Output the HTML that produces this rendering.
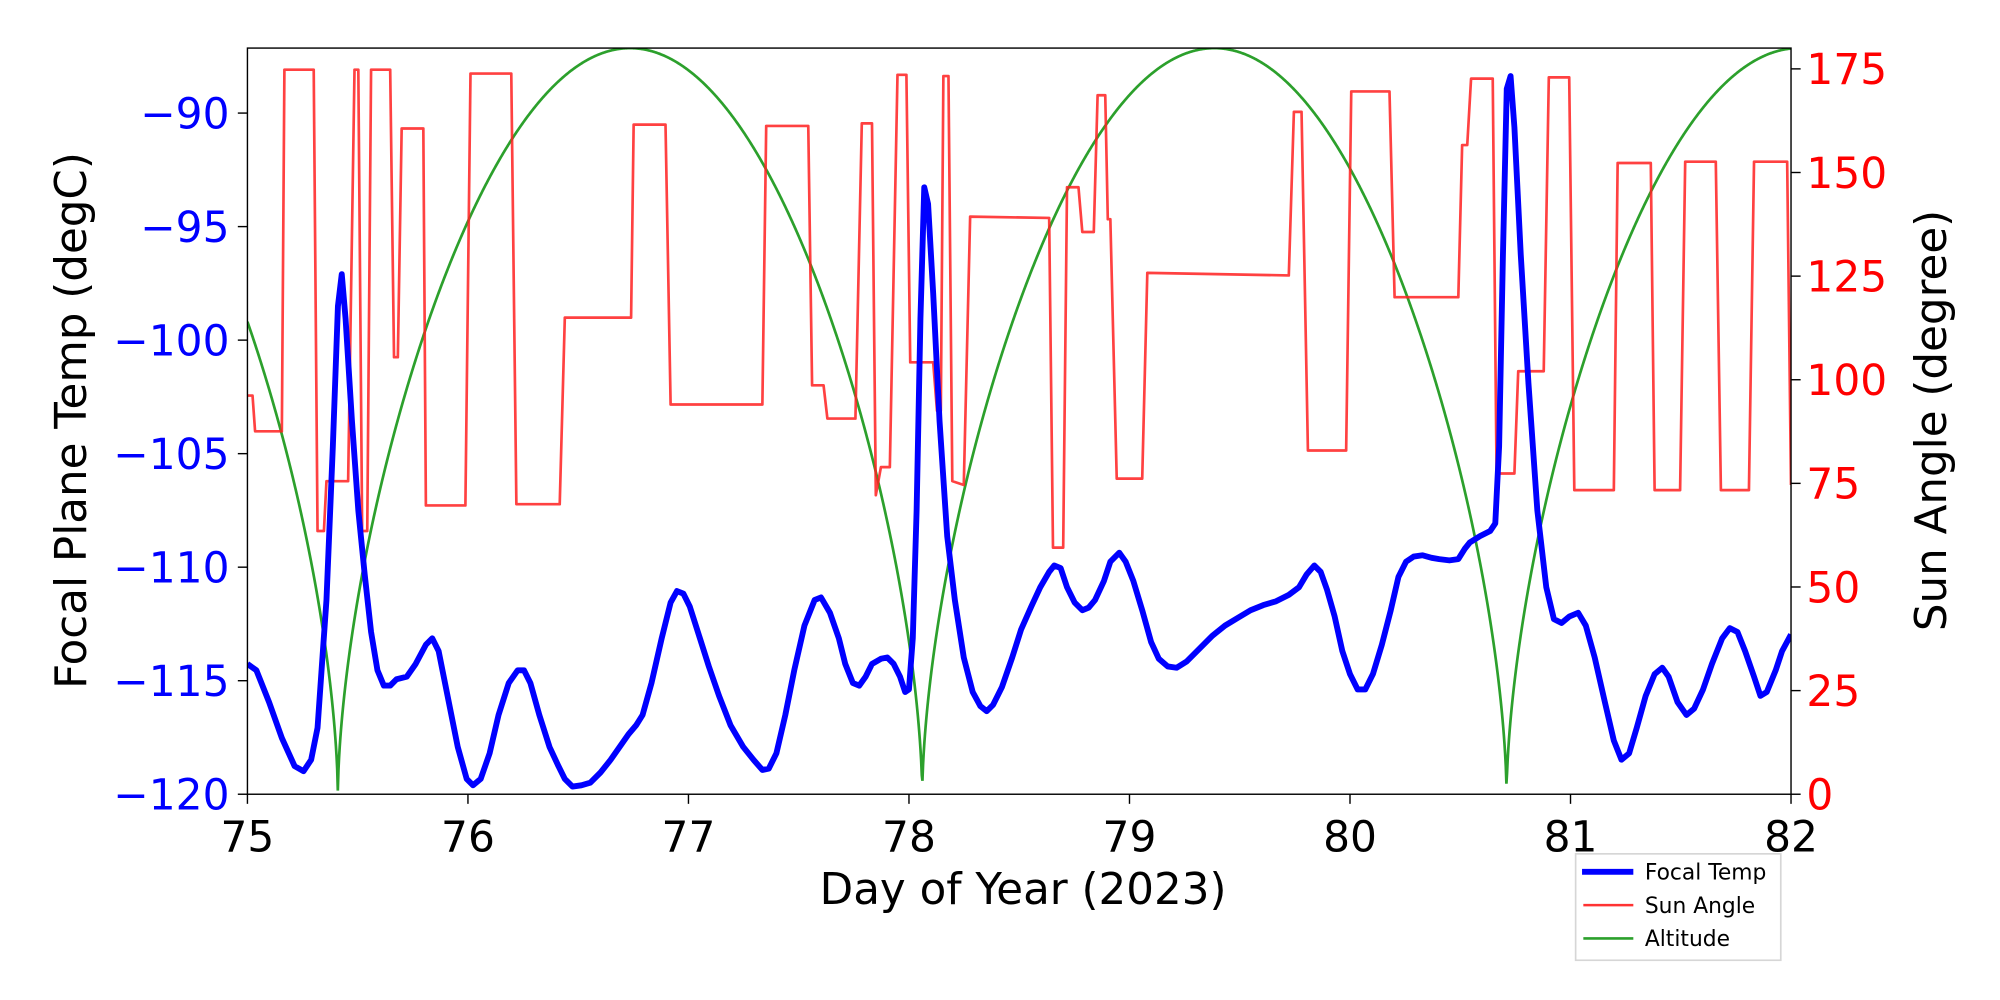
<!DOCTYPE html>
<html><head><meta charset="utf-8"><style>
html,body{margin:0;padding:0;background:#fff;}
svg{display:block;font-family:"DejaVu Sans","Liberation Sans",sans-serif;}
</style></head><body>
<svg id="s" width="2000" height="1000" viewBox="0 0 2000 1000" xmlns="http://www.w3.org/2000/svg">
<rect width="2000" height="1000" fill="#fff"/>
<g transform="scale(1.28205)">
<defs><clipPath id="c"><rect x="193" y="37.5" width="1204" height="582"/></clipPath></defs>
<g clip-path="url(#c)">
<path id="green" fill="none" stroke="#2ca02c" stroke-width="2.1" d=""/>
<g transform="matrix(0.9942,0,0,0.9967,1.12,-0.45)">
<path fill="none" stroke="#ff2020" stroke-opacity="0.85" stroke-width="2.1" stroke-linejoin="round" d="M193,310 L197,310 L199,338 L220,338 L222,55 L245,55 L248,416 L253,416 L255,377 L272,377 L277,55 L280,55 L283,416 L287,416 L290,55 L305,55 L308,280 L311,280 L314,101 L331,101 L333,396 L364,396 L368,58 L400,58 L404,395 L438,395 L442,249 L494,249 L496,98 L521,98 L525,317 L597,317 L600,99 L633,99 L636,302 L645,302 L648,328 L670,328 L675,97 L683,97 L686,388 L690,366 L697,366 L703,59 L710,59 L713,284 L731,284 L734,322 L737,322 L739,60 L743,60 L746,377 L755,380 L760,170 L822,171 L825,429 L833,429 L836,147 L845,147 L848,182 L857,182 L860,75 L866,75 L868,172 L870,172 L875,375 L895,375 L899,214 L1010,216 L1014,88 L1020,88 L1025,353 L1055,353 L1059,72 L1089,72 L1093,233 L1143,233 L1146,114 L1150,114 L1153,62 L1170,62 L1173,371 L1187,371 L1190,291 L1210,291 L1214,61 L1230,61 L1234,384 L1265,384 L1268,128 L1294,128 L1297,384 L1317,384 L1321,127 L1345,127 L1349,384 L1371,384 L1375,127 L1401,127 L1404,380"/>
<path fill="none" stroke="#0000ff" stroke-width="4.6" stroke-linejoin="round" d="M193,520 L200,525 L210,550 L220,578 L230,600 L237,604 L243,595 L248,570 L255,470 L260,350 L264,240 L267,215 L270,250 L275,330 L280,400 L285,450 L290,495 L295,525 L300,537 L305,537 L310,532 L318,530 L325,520 L333,505 L338,500 L343,510 L350,545 L358,585 L365,610 L370,615 L376,610 L383,590 L390,560 L398,535 L405,525 L410,525 L415,535 L422,560 L430,585 L437,600 L442,610 L448,616 L455,615 L462,613 L470,605 L478,595 L485,585 L492,575 L498,568 L503,560 L510,535 L518,500 L525,472 L530,463 L535,465 L540,475 L548,500 L555,522 L563,545 L572,568 L582,585 L590,595 L597,603 L602,602 L608,590 L615,560 L622,525 L630,490 L638,470 L643,468 L650,480 L657,500 L662,520 L668,535 L673,537 L678,530 L683,520 L690,516 L695,515 L700,520 L705,530 L709,542 L712,540 L715,500 L718,400 L721,250 L724,147 L727,160 L731,230 L736,330 L742,420 L748,470 L755,515 L762,542 L768,553 L773,557 L778,552 L785,538 L793,515 L800,493 L808,475 L815,460 L822,448 L826,443 L831,445 L836,460 L842,472 L848,478 L853,476 L858,470 L865,455 L870,440 L877,433 L882,440 L888,455 L895,478 L902,503 L908,516 L915,522 L922,523 L930,518 L940,508 L950,498 L960,490 L970,484 L980,478 L990,474 L1000,471 L1010,466 L1018,460 L1024,450 L1030,443 L1035,448 L1040,462 L1046,483 L1052,510 L1058,528 L1064,540 L1070,540 L1076,528 L1083,505 L1090,478 L1096,452 L1102,440 L1108,436 L1115,435 L1122,437 L1128,438 L1136,439 L1143,438 L1148,430 L1152,425 L1160,420 L1168,416 L1172,410 L1175,350 L1178,200 L1181,70 L1184,60 L1187,100 L1192,200 L1198,300 L1205,400 L1212,460 L1218,485 L1224,488 L1230,483 L1237,480 L1243,490 L1250,515 L1258,550 L1265,580 L1271,595 L1277,590 L1283,570 L1290,545 L1297,528 L1303,523 L1308,530 L1315,550 L1322,560 L1328,555 L1335,540 L1342,520 L1350,500 L1356,492 L1362,495 L1368,510 L1375,530 L1380,545 L1385,542 L1392,525 L1397,510 L1404,497"/>
</g>
</g>
<rect x="193" y="37.5" width="1204" height="582" fill="none" stroke="#000" stroke-width="1.1"/>
<g id="ticks" stroke="#000" stroke-width="1.1"></g>
<g id="lbl"></g>
<text x="798" y="705" font-size="34" text-anchor="middle">Day of Year (2023)</text>
<text transform="translate(67,328) rotate(-90)" font-size="34" text-anchor="middle">Focal Plane Temp (degC)</text>
<text transform="translate(1518,328) rotate(-90)" font-size="34" text-anchor="middle">Sun Angle (degree)</text>
<rect x="1229" y="666" width="160" height="83" fill="#fff" stroke="#d6d6d6" stroke-width="1.3"/>
<line x1="1234" y1="680" x2="1274" y2="680" stroke="#0000ff" stroke-width="4.6"/>
<line x1="1235" y1="706" x2="1274" y2="706" stroke="#ff3333" stroke-width="2"/>
<line x1="1235" y1="732" x2="1274" y2="732" stroke="#2ca02c" stroke-width="2"/>
<text x="1283" y="686" font-size="17">Focal Temp</text>
<text x="1283" y="712" font-size="17">Sun Angle</text>
<text x="1283" y="738" font-size="17">Altitude</text>
</g>
</svg>
<script>
var NS="http://www.w3.org/2000/svg";
var d="";
for(var x=193;x<=1397;x+=0.5){var day=75+(x-193)/172;var v=Math.abs(Math.sin(Math.PI*(day-75.41)/2.65));var s=180*Math.pow(v,0.6);var y=619.5-s*3.233;d+=(x==193?"M":"L")+x.toFixed(1)+","+y.toFixed(2)+" ";}
document.getElementById("green").setAttribute("d",d);
var t=document.getElementById("ticks"),l=document.getElementById("lbl");
function ln(a,b,c,e){var q=document.createElementNS(NS,"line");q.setAttribute("x1",a);q.setAttribute("y1",b);q.setAttribute("x2",c);q.setAttribute("y2",e);t.appendChild(q);}
function tx(x,y,s,col,anc){var q=document.createElementNS(NS,"text");q.setAttribute("x",x);q.setAttribute("y",y);q.setAttribute("font-size","33");q.setAttribute("fill",col);q.setAttribute("text-anchor",anc);q.textContent=s;l.appendChild(q);}
for(var i=75;i<=82;i++){var x=193+(i-75)*172;ln(x,619.5,x,627);tx(x,664,String(i),"#000","middle");}
for(var v=-120;v<=-90;v+=5){var y=619.5-(v+120)*17.71;ln(185.5,y,193,y);tx(179,y+12,"\u2212"+Math.abs(v),"#0000ff","end");}
for(var s=0;s<=175;s+=25){var y=619.5-s*3.233;ln(1397,y,1404.5,y);tx(1409,y+12,String(s),"#ff0000","start");}
</script>
</body></html>
